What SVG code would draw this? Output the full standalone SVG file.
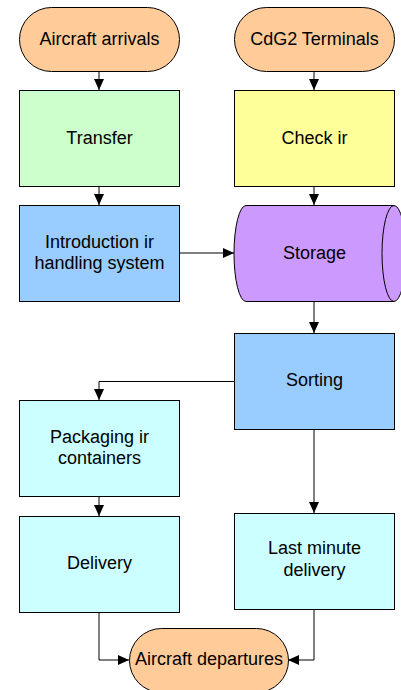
<svg xmlns="http://www.w3.org/2000/svg" width="401" height="690" viewBox="0 0 401 690">
  <style>
    .shape { stroke: #000; stroke-width: 1; }
    .term { fill: #FFCC99; }
    .green { fill: #CCFFCC; }
    .yellow { fill: #FFFF99; }
    .blue { fill: #99CCFF; }
    .purple { fill: #CC99FF; }
    .cyan { fill: #CCFFFF; }
    .label { font-family: "Liberation Sans", Arial, sans-serif; font-size: 18px; fill: #000; text-anchor: middle; }
    .conn { fill: none; stroke: #000; stroke-width: 1; marker-end: url(#arrow); }
  </style>
  <defs>
    <marker id="arrow" viewBox="0 0 11 10" refX="11" refY="5" markerWidth="11" markerHeight="10" markerUnits="userSpaceOnUse" orient="auto">
      <path d="M0,0 L11,5 L0,10 Z" fill="#000"/>
    </marker>
  </defs>
  <rect width="401" height="690" fill="#fff"/>

  <g id="connectors">
    <path class="conn" d="M99,71 V90"/>
    <path class="conn" d="M314,71 V90"/>
    <path class="conn" d="M99,186 V205"/>
    <path class="conn" d="M314,186 V205"/>
    <path class="conn" d="M180,253 H234"/>
    <path class="conn" d="M314,301 V333"/>
    <path class="conn" d="M234,381.5 H99 V400"/>
    <path class="conn" d="M99,497 V516"/>
    <path class="conn" d="M314,429 V513"/>
    <path class="conn" d="M99,612 V660 H129"/>
    <path class="conn" d="M314,609 V660 H288"/>
  </g>

  <g id="aircraft-arrivals">
    <rect class="shape term" x="19.5" y="7.5" width="160" height="64" rx="32" ry="32"/>
    <text class="label" x="99.5" y="45">Aircraft arrivals</text>
  </g>
  <g id="cdg2-terminals">
    <rect class="shape term" x="234.5" y="7.5" width="160" height="64" rx="32" ry="32"/>
    <text class="label" x="314.5" y="45">CdG2 Terminals</text>
  </g>
  <g id="transfer">
    <rect class="shape green" x="19.5" y="90.5" width="160" height="96"/>
    <text class="label" x="99.5" y="144">Transfer</text>
  </g>
  <g id="check-in">
    <rect class="shape yellow" x="234.5" y="90.5" width="160" height="96"/>
    <text class="label" x="314.5" y="144">Check ir</text>
  </g>
  <g id="introduction">
    <rect class="shape blue" x="19.5" y="205.5" width="160" height="96"/>
    <text class="label" x="99.5" y="248">Introduction ir</text>
    <text class="label" x="99.5" y="269">handling system</text>
  </g>
  <g id="storage">
    <path class="shape purple" d="M246,205.5 H394 A12,48 0 0 1 394,301.5 H246 A12,48 0 0 1 246,205.5 Z"/>
    <path class="shape" fill="none" d="M394,205.5 A12,48 0 0 0 394,301.5"/>
    <text class="label" x="314.5" y="259">Storage</text>
  </g>
  <g id="sorting">
    <rect class="shape blue" x="234.5" y="333.5" width="160" height="96"/>
    <text class="label" x="314.5" y="386">Sorting</text>
  </g>
  <g id="packaging">
    <rect class="shape cyan" x="19.5" y="400.5" width="160" height="96"/>
    <text class="label" x="99.5" y="443">Packaging ir</text>
    <text class="label" x="99.5" y="464">containers</text>
  </g>
  <g id="delivery">
    <rect class="shape cyan" x="19.5" y="516.5" width="160" height="96"/>
    <text class="label" x="99.5" y="569">Delivery</text>
  </g>
  <g id="last-minute-delivery">
    <rect class="shape cyan" x="234.5" y="513.5" width="160" height="96"/>
    <text class="label" x="314.5" y="554">Last minute</text>
    <text class="label" x="314.5" y="576">delivery</text>
  </g>
  <g id="aircraft-departures">
    <rect class="shape term" x="129.5" y="628.5" width="159" height="64" rx="32" ry="32"/>
    <text class="label" x="209" y="665">Aircraft departures</text>
  </g>
</svg>
